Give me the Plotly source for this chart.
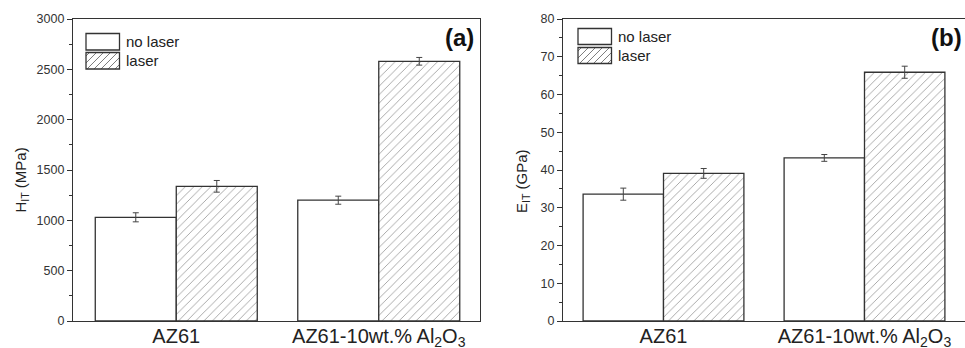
import plotly.graph_objects as go

# ---------------- data ----------------
categories = ["AZ61", "AZ61-10wt.% Al2O3"]
tick_labels = ["AZ61", "AZ61-10wt.% Al<sub>2</sub>O<sub>3</sub>"]
series_names = ["no laser", "laser"]

hardness_no_laser = [1030, 1200]
hardness_no_laser_err = [45, 40]
hardness_laser = [1338, 2580]
hardness_laser_err = [58, 38]

modulus_no_laser = [33.6, 43.2]
modulus_no_laser_err = [1.6, 0.9]
modulus_laser = [39.1, 65.9]
modulus_laser_err = [1.3, 1.6]

# ---------------- styling ----------------
W, H = 965, 348
FONT = "Liberation Sans, Arial, sans-serif"
DARK = "#333333"
HATCH = "#444444"


def px(x):
    return x / W


def py(y):
    return 1 - y / H


def bar(name, xaxis, yaxis, vals, errs, hatched):
    marker = dict(color="white", line=dict(color=DARK, width=1.3))
    if hatched:
        marker["pattern"] = dict(shape="/", fgcolor=HATCH, bgcolor="white",
                                 size=6, solidity=0.15)
    return go.Bar(
        x=categories, y=vals, name=name, xaxis=xaxis, yaxis=yaxis,
        marker=marker, showlegend=False,
        error_y=dict(type="data", array=errs, color="#444444",
                     thickness=1, width=3),
    )


fig = go.Figure()
fig.add_trace(bar(series_names[0], "x", "y", hardness_no_laser, hardness_no_laser_err, False))
fig.add_trace(bar(series_names[1], "x", "y", hardness_laser, hardness_laser_err, True))
fig.add_trace(bar(series_names[0], "x2", "y2", modulus_no_laser, modulus_no_laser_err, False))
fig.add_trace(bar(series_names[1], "x2", "y2", modulus_laser, modulus_laser_err, True))

ydom = [py(321), py(19)]

common_x = dict(
    type="category", showline=True, linecolor=DARK, linewidth=1.3,
    mirror=True, ticks="", showgrid=False, zeroline=False,
    tickvals=categories, ticktext=tick_labels,
    tickfont=dict(family=FONT, size=20, color="#222"),
    ticklabelstandoff=-3, automargin=False,
)
common_y = dict(
    showline=True, linecolor=DARK, linewidth=1.3, showgrid=False,
    zeroline=False, ticks="outside", ticklen=5, tickcolor=DARK, tickwidth=1,
    tickfont=dict(family=FONT, size=12.5, color="#333"),
    domain=ydom, automargin=False,
)

fig.update_layout(
    width=W, height=H,
    margin=dict(l=0, r=0, t=0, b=0, autoexpand=False),
    paper_bgcolor="white", plot_bgcolor="white",
    barmode="group", bargap=0.2, bargroupgap=0,
    showlegend=False,
    xaxis=dict(common_x, domain=[px(73), px(480)], range=[-0.51, 1.5], anchor="y"),
    yaxis=dict(common_y, range=[0, 3000], dtick=500, mirror=True, anchor="x",
               minor=dict(ticks="outside", ticklen=3, dtick=250, tickcolor=DARK)),
    xaxis2=dict(common_x, domain=[px(563), 1.0], range=[-0.5, 1.5], anchor="y2"),
    yaxis2=dict(common_y, range=[0, 80], dtick=10, mirror=False, anchor="x2",
                minor=dict(ticks="outside", ticklen=3, dtick=5, tickcolor=DARK)),
)

# ---------------- custom legends, titles, panel labels ----------------
shapes = []
annotations = []


def hatch_path(x0, y0, x1, y1, step):
    segs = []
    c = x0 + y0 + step / 2
    while c < x1 + y1:
        xa = max(x0, c - y1)
        xb = min(x1, c - y0)
        if xa < xb:
            segs.append(f"M{px(xa):.5f},{py(c - xa):.5f}L{px(xb):.5f},{py(c - xb):.5f}")
        c += step
    return "".join(segs)


def legend(x0, y_top, box_w, box_h, gap, text_x):
    shapes.append(dict(type="rect", xref="paper", yref="paper",
                       x0=px(x0), x1=px(x0 + box_w), y0=py(y_top + box_h), y1=py(y_top),
                       line=dict(color=DARK, width=1.3), fillcolor="white"))
    yb = y_top + box_h + gap
    shapes.append(dict(type="path", xref="paper", yref="paper",
                       path=hatch_path(x0, yb, x0 + box_w, yb + box_h, 7),
                       line=dict(color=HATCH, width=0.7)))
    shapes.append(dict(type="rect", xref="paper", yref="paper",
                       x0=px(x0), x1=px(x0 + box_w), y0=py(yb + box_h), y1=py(yb),
                       line=dict(color=DARK, width=1.3)))
    for i, name in enumerate(series_names):
        yc = y_top + box_h / 2 + i * (box_h + gap)
        annotations.append(dict(xref="paper", yref="paper", x=px(text_x), y=py(yc),
                                xanchor="left", yanchor="middle", showarrow=False,
                                text=name, font=dict(family=FONT, size=15, color="#222")))


legend(86, 33.5, 33.5, 16.5, 2.5, 124)
legend(578, 28.5, 33.5, 16, 3, 616)

annotations.append(dict(xref="paper", yref="paper", x=px(20.5), y=py(180),
                        textangle=-90, showarrow=False, xanchor="center", yanchor="middle",
                        text="H<sub>IT</sub> (MPa)", font=dict(family=FONT, size=15, color="#222")))
annotations.append(dict(xref="paper", yref="paper", x=px(523), y=py(181),
                        textangle=-90, showarrow=False, xanchor="center", yanchor="middle",
                        text="E<sub>IT</sub> (GPa)", font=dict(family=FONT, size=15, color="#222")))
annotations.append(dict(xref="paper", yref="paper", x=px(459), y=py(37),
                        showarrow=False, xanchor="center", yanchor="middle",
                        text="<b>(a)</b>", font=dict(family=FONT, size=24, color="#111")))
annotations.append(dict(xref="paper", yref="paper", x=px(964), y=py(37),
                        showarrow=False, xanchor="right", yanchor="middle",
                        text="<b>(b)</b>", font=dict(family=FONT, size=24, color="#111")))

fig.update_layout(shapes=shapes, annotations=annotations)

fig.write_html("out.html")
